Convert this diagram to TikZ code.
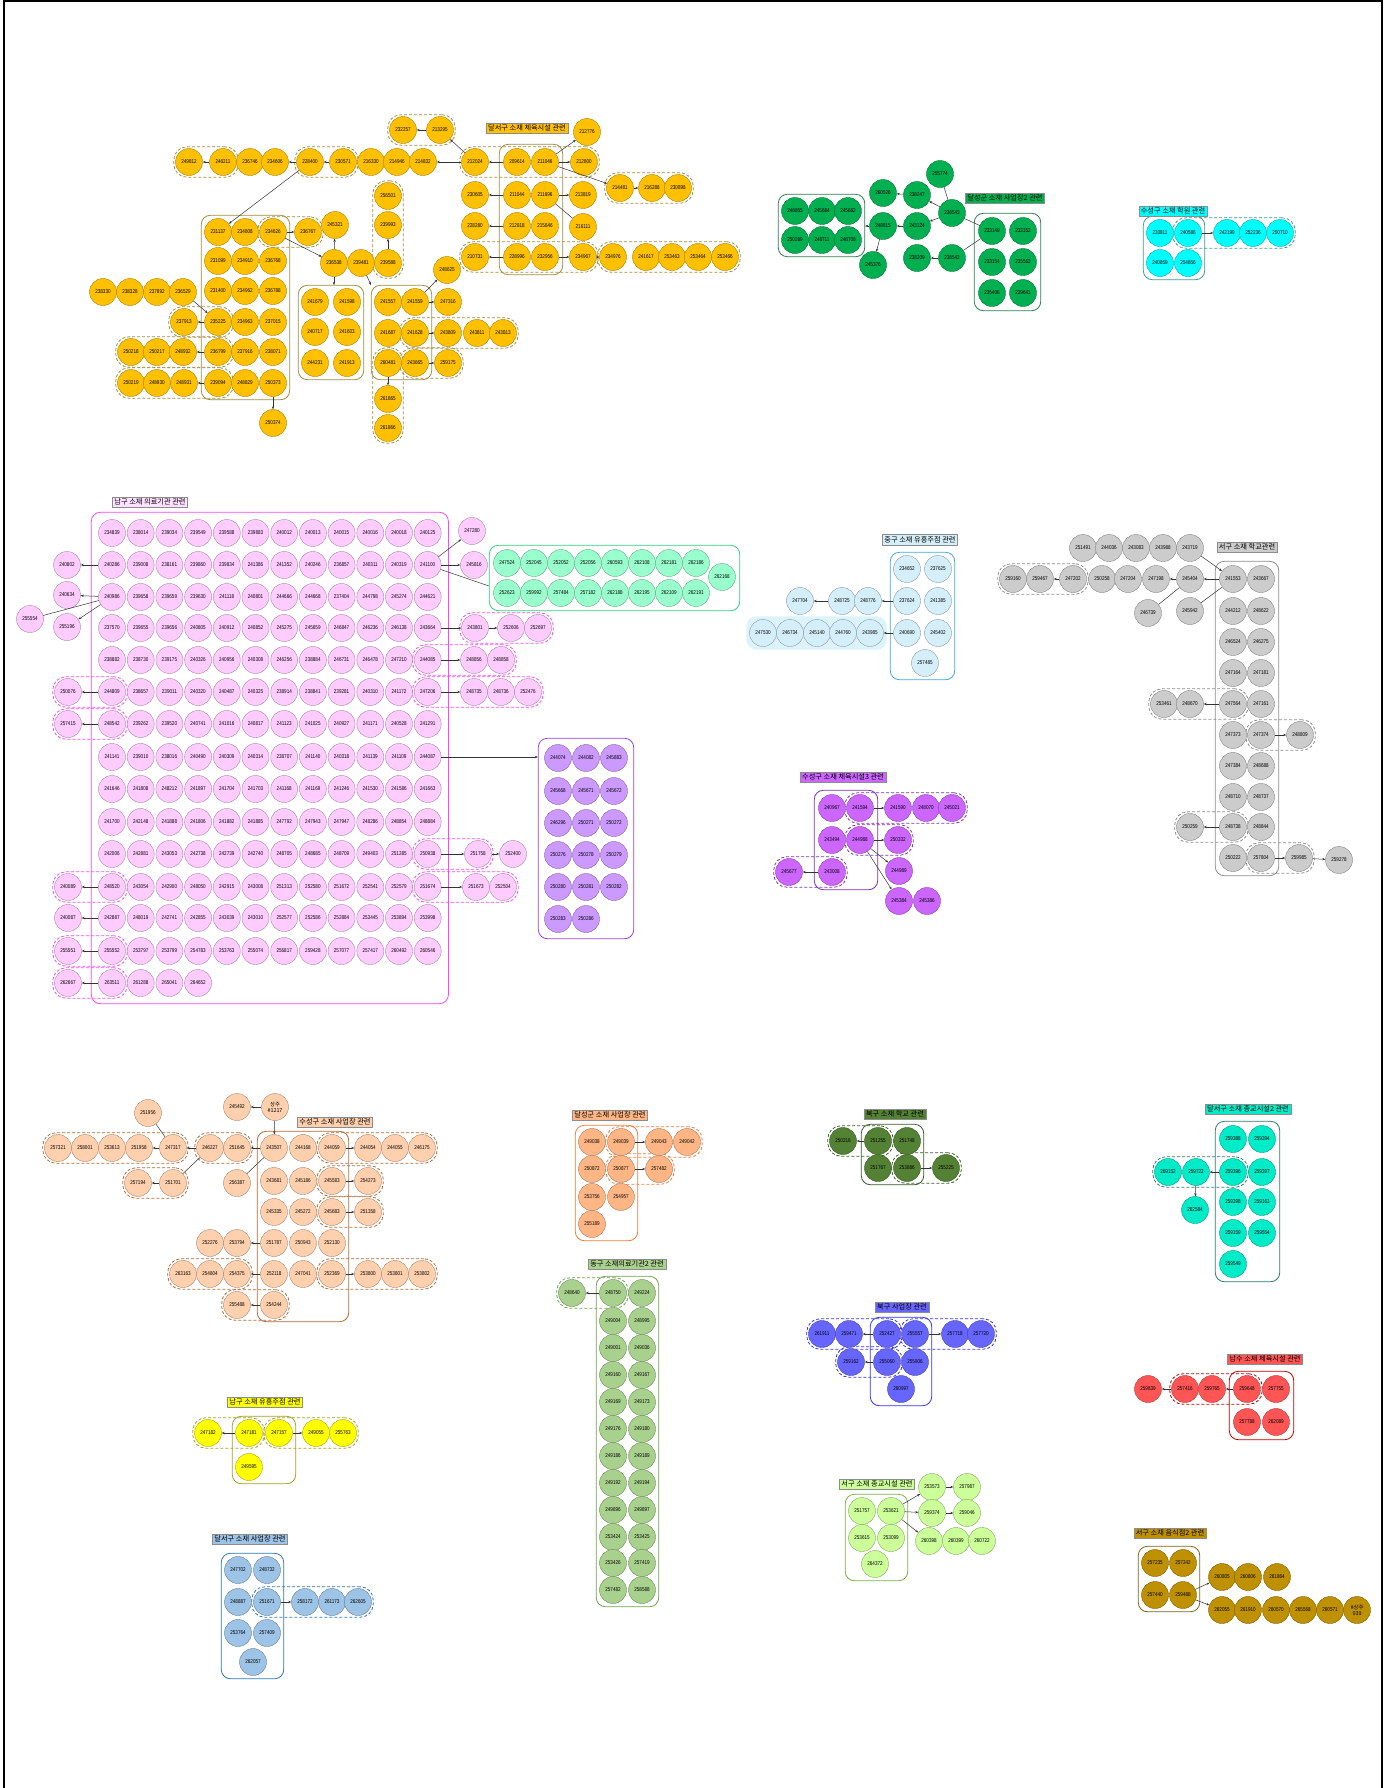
\documentclass[tikz,border=0pt]{standalone}
\usepackage{fontspec}
\setmainfont{Noto Sans CJK KR}
\newfontfamily\numfont{Liberation Sans}[FakeStretch=0.82]
\usetikzlibrary{arrows.meta, fit, backgrounds}

\definecolor{cYel}{HTML}{FFC000}\definecolor{cYelLn}{HTML}{A08C3C}
\definecolor{cGrn}{HTML}{00B050}\definecolor{cGrnLn}{HTML}{2E7D4F}
\definecolor{cCya}{HTML}{00FFFF}\definecolor{cCyaLn}{HTML}{3A9A9A}
\definecolor{cPnk}{HTML}{FFCCFF}\definecolor{cPnkLn}{HTML}{FF44FF}
\definecolor{cTea}{HTML}{99FFCC}\definecolor{cTeaLn}{HTML}{33CC80}
\definecolor{cVio}{HTML}{CC99FF}\definecolor{cVioLn}{HTML}{9940EE}
\definecolor{cLbl}{HTML}{D4EFFA}\definecolor{cLblLn}{HTML}{40A8E0}\definecolor{cBand}{HTML}{DDF3FB}
\definecolor{cGry}{HTML}{CCCCCC}\definecolor{cGryLn}{HTML}{8C8C8C}
\definecolor{cPur}{HTML}{CC66FF}\definecolor{cPurLn}{HTML}{7A30B8}
\definecolor{cPch}{HTML}{FFD0AE}\definecolor{cPchLn}{HTML}{B06A35}
\definecolor{cOrg}{HTML}{FFB684}\definecolor{cOrgLn}{HTML}{F07A3A}
\definecolor{cLgr}{HTML}{A9D18E}\definecolor{cLgrLn}{HTML}{70A050}
\definecolor{cDgr}{HTML}{548235}\definecolor{cDgrLn}{HTML}{3A5A28}
\definecolor{cBlu}{HTML}{6666FF}\definecolor{cBluLn}{HTML}{3333EE}
\definecolor{cLim}{HTML}{CCFF99}\definecolor{cLimLn}{HTML}{78B048}
\definecolor{cTur}{HTML}{00EBC8}\definecolor{cTurLn}{HTML}{2E7A6A}
\definecolor{cRed}{HTML}{FF5555}\definecolor{cRedLn}{HTML}{C00000}
\definecolor{cGld}{HTML}{BF9000}\definecolor{cGldLn}{HTML}{7F6020}
\definecolor{cYlw}{HTML}{FFFF00}\definecolor{cYlwLn}{HTML}{A8A020}
\definecolor{cBlw}{HTML}{9DC3E6}\definecolor{cBlwLn}{HTML}{2E75B6}

\tikzset{
  cnode/.style={circle, minimum size=27pt, inner sep=0pt, line width=0.4pt, font=\numfont\fontsize{5.6}{5.6}\selectfont},
  nd/.style={cnode, fill=#1, draw=#1!65!black},
  grp/.style={draw=#1, rounded corners=9pt, line width=0.8pt, inner sep=3pt},
  dgrp/.style={draw=#1, dashed, dash pattern=on 3pt off 2pt, rounded corners=13pt, line width=0.8pt, inner sep=1.5pt},
  ttl/.style={draw=black!45, fill=#1, inner sep=2pt, font=\fontsize{7.2}{8}\selectfont},
  arr/.style={-{Stealth[length=3pt,width=2.4pt]}, draw=black!80, line width=0.5pt},
  lnk/.style={draw=black!80, line width=0.5pt}
}

\begin{document}
\begin{tikzpicture}[x=1pt, y=-1pt]
\useasboundingbox (0,0) rectangle (1390,1788);
\draw[line width=1.2pt] (4,1788) -- (4,1) -- (1382,1) -- (1382,1788);

% 달서구 소재 체육시설
\node[ttl=cYel] (tY) at (527,128) {달서구 소재 체육시설 관련};
\node[nd=cYel] (Y249812) at (189,162) {249812};
\node[nd=cYel] (Y246211) at (223,162) {246211};
\node[nd=cYel] (Y236746) at (250,162) {236746};
\node[nd=cYel] (Y234606) at (275,162) {234606};
\node[nd=cYel] (Y228400) at (310,162) {228400};
\node[nd=cYel] (Y230571) at (343,162) {230571};
\node[nd=cYel] (Y216330) at (371,162) {216330};
\node[nd=cYel] (Y214946) at (397,162) {214946};
\node[nd=cYel] (Y214832) at (423,162) {214832};
\node[nd=cYel] (Y212024) at (475,162) {212024};
\node[nd=cYel] (Y209614) at (517,162) {209614};
\node[nd=cYel] (Y211046) at (545,162) {211046};
\node[nd=cYel] (Y212800) at (584,162) {212800};
\node[nd=cYel] (Y212776) at (587,132) {212776};
\node[nd=cYel] (Y232257) at (403,130) {232257};
\node[nd=cYel] (Y213295) at (440,130) {213295};
\node[nd=cYel] (Y230605) at (475,195) {230605};
\node[nd=cYel] (Y211044) at (517,195) {211044};
\node[nd=cYel] (Y211696) at (545,195) {211696};
\node[nd=cYel] (Y213819) at (583,195) {213819};
\node[nd=cYel] (Y214481) at (620,188) {214481};
\node[nd=cYel] (Y216288) at (652,188) {216288};
\node[nd=cYel] (Y230898) at (678,188) {230898};
\node[nd=cYel] (Y228280) at (475,226) {228280};
\node[nd=cYel] (Y212818) at (517,226) {212818};
\node[nd=cYel] (Y215846) at (545,226) {215846};
\node[nd=cYel] (Y216111) at (583,227) {216111};
\node[nd=cYel] (Y210731) at (475,257) {210731};
\node[nd=cYel] (Y228996) at (517,257) {228996};
\node[nd=cYel] (Y232956) at (545,257) {232956};
\node[nd=cYel] (Y234967) at (583,257) {234967};
\node[nd=cYel] (Y234976) at (613,257) {234976};
\node[nd=cYel] (Y241617) at (646,257) {241617};
\node[nd=cYel] (Y253463) at (672,257) {253463};
\node[nd=cYel] (Y253464) at (698,257) {253464};
\node[nd=cYel] (Y253466) at (725,257) {253466};
\node[nd=cYel] (Y231137) at (218,232) {231137};
\node[nd=cYel] (Y234808) at (245,232) {234808};
\node[nd=cYel] (Y234626) at (273,232) {234626};
\node[nd=cYel] (Y231099) at (218,261) {231099};
\node[nd=cYel] (Y234910) at (245,261) {234910};
\node[nd=cYel] (Y236768) at (273,261) {236768};
\node[nd=cYel] (Y231400) at (218,291) {231400};
\node[nd=cYel] (Y234962) at (245,291) {234962};
\node[nd=cYel] (Y236788) at (273,291) {236788};
\node[nd=cYel] (Y235225) at (218,322) {235225};
\node[nd=cYel] (Y234963) at (245,322) {234963};
\node[nd=cYel] (Y237015) at (273,322) {237015};
\node[nd=cYel] (Y236799) at (218,352) {236799};
\node[nd=cYel] (Y237916) at (245,352) {237916};
\node[nd=cYel] (Y238071) at (273,352) {238071};
\node[nd=cYel] (Y239094) at (218,383) {239094};
\node[nd=cYel] (Y248829) at (245,383) {248829};
\node[nd=cYel] (Y250373) at (273,383) {250373};
\node[nd=cYel] (Y236767) at (308,232) {236767};
\node[nd=cYel] (Y245321) at (335,225) {245321};
\node[nd=cYel] (Y236538) at (334,263) {236538};
\node[nd=cYel] (Y239481) at (361,263) {239481};
\node[nd=cYel] (Y239588) at (388,263) {239588};
\node[nd=cYel] (Y239993) at (388,225) {239993};
\node[nd=cYel] (Y256501) at (388,196) {256501};
\node[nd=cYel] (Y238330) at (103,292) {238330};
\node[nd=cYel] (Y238328) at (130,292) {238328};
\node[nd=cYel] (Y237892) at (157,292) {237892};
\node[nd=cYel] (Y236529) at (183,292) {236529};
\node[nd=cYel] (Y237913) at (184,322) {237913};
\node[nd=cYel] (Y250218) at (131,352) {250218};
\node[nd=cYel] (Y250217) at (157,352) {250217};
\node[nd=cYel] (Y248932) at (183,352) {248932};
\node[nd=cYel] (Y250219) at (131,383) {250219};
\node[nd=cYel] (Y248930) at (157,383) {248930};
\node[nd=cYel] (Y248931) at (184,383) {248931};
\node[nd=cYel] (Y250374) at (273,423) {250374};
\node[nd=cYel] (Y241679) at (315,302) {241679};
\node[nd=cYel] (Y241598) at (347,302) {241598};
\node[nd=cYel] (Y240717) at (315,332) {240717};
\node[nd=cYel] (Y241603) at (347,332) {241603};
\node[nd=cYel] (Y244231) at (315,363) {244231};
\node[nd=cYel] (Y241913) at (347,363) {241913};
\node[nd=cYel] (Y241557) at (388,302) {241557};
\node[nd=cYel] (Y241559) at (415,302) {241559};
\node[nd=cYel] (Y241687) at (388,333) {241687};
\node[nd=cYel] (Y241628) at (415,333) {241628};
\node[nd=cYel] (Y260481) at (388,363) {260481};
\node[nd=cYel] (Y243665) at (415,363) {243665};
\node[nd=cYel] (Y248625) at (447,270) {248625};
\node[nd=cYel] (Y247316) at (448,302) {247316};
\node[nd=cYel] (Y243809) at (448,333) {243809};
\node[nd=cYel] (Y243811) at (477,333) {243811};
\node[nd=cYel] (Y243813) at (503,333) {243813};
\node[nd=cYel] (Y259175) at (448,363) {259175};
\node[nd=cYel] (Y261865) at (388,399) {261865};
\node[nd=cYel] (Y261866) at (388,428) {261866};

% 달성군 소재 사업장2
\node[ttl=cGrn] (tG) at (1005,198) {달성군 소재 사업장2 관련};
\node[nd=cGrn] (G248855) at (795,211) {248855};
\node[nd=cGrn] (G245684) at (822,211) {245684};
\node[nd=cGrn] (G245682) at (848,211) {245682};
\node[nd=cGrn] (G250289) at (795,240) {250289};
\node[nd=cGrn] (G248711) at (822,240) {248711};
\node[nd=cGrn] (G248708) at (848,240) {248708};
\node[nd=cGrn] (G248815) at (883,226) {248815};
\node[nd=cGrn] (G245376) at (873,265) {245376};
\node[nd=cGrn] (G260526) at (883,193) {260526};
\node[nd=cGrn] (G238247) at (917,195) {238247};
\node[nd=cGrn] (G243124) at (917,226) {243124};
\node[nd=cGrn] (G238543) at (952,213) {238543};
\node[nd=cGrn] (G255774) at (940,174) {255774};
\node[nd=cGrn] (G238209) at (917,258) {238209};
\node[nd=cGrn] (G238542) at (952,258) {238542};
\node[nd=cGrn] (G233149) at (992,231) {233149};
\node[nd=cGrn] (G233152) at (1023,231) {233152};
\node[nd=cGrn] (G233154) at (992,262) {233154};
\node[nd=cGrn] (G235562) at (1023,262) {235562};
\node[nd=cGrn] (G235406) at (992,293) {235406};
\node[nd=cGrn] (G239641) at (1023,293) {239641};

% 수성구 소재 학원
\node[ttl=cCya] (tC) at (1173,211) {수성구 소재 학원 관련};
\node[nd=cCya] (C233811) at (1160,233) {233811};
\node[nd=cCya] (C240586) at (1188,233) {240586};
\node[nd=cCya] (C240859) at (1160,263) {240859};
\node[nd=cCya] (C254856) at (1188,263) {254856};
\node[nd=cCya] (C242199) at (1227,233) {242199};
\node[nd=cCya] (C252236) at (1253,233) {252236};
\node[nd=cCya] (C250710) at (1280,233) {250710};

% 남구 소재 의료기관
\node[ttl=cPnk!60] (tP) at (150,502) {남구 소재 의료기관 관련};
\foreach \lbl [count=\c from 0] in {234839,238014,239034,239549,239588,239883,240012,240013,240015,240016,240018,240125}
  \node[nd=cPnk] (P\lbl) at ({112+28.7*\c},533) {\lbl};
\foreach \lbl [count=\c from 0] in {240286,239008,238161,239860,239834,241386,241352,240246,236857,240311,240319,241100}
  \node[nd=cPnk] (P\lbl) at ({112+28.7*\c},565) {\lbl};
\foreach \lbl [count=\c from 0] in {240986,239658,239659,239630,241118,240801,244666,244668,237404,244798,245274,244621}
  \node[nd=cPnk] (P\lbl) at ({112+28.7*\c},597) {\lbl};
\foreach \lbl [count=\c from 0] in {237570,239655,239656,240805,240912,240852,245275,245659,246847,246236,246138,243664}
  \node[nd=cPnk] (P\lbl) at ({112+28.7*\c},628) {\lbl};
\foreach \lbl [count=\c from 0] in {238882,238730,239175,240326,240956,240308,246256,238884,246731,246478,247210,244085}
  \node[nd=cPnk] (P\lbl) at ({112+28.7*\c},660) {\lbl};
\foreach \lbl [count=\c from 0] in {244809,238657,239011,240320,240487,240325,238914,238841,239281,240310,241172,247206}
  \node[nd=cPnk] (P\lbl) at ({112+28.7*\c},692) {\lbl};
\foreach \lbl [count=\c from 0] in {248542,239262,239520,240741,241016,240817,241123,241025,240927,241171,240528,241291}
  \node[nd=cPnk] (P\lbl) at ({112+28.7*\c},724) {\lbl};
\foreach \lbl [count=\c from 0] in {241141,239010,238016,240490,240309,240314,238707,241140,240318,241139,241109,244087}
  \node[nd=cPnk] (P\lbl) at ({112+28.7*\c},757) {\lbl};
\foreach \lbl [count=\c from 0] in {241646,241808,248212,241897,241704,241703,241168,241169,241246,241530,241586,241663}
  \node[nd=cPnk] (P\lbl) at ({112+28.7*\c},789) {\lbl};
\foreach \lbl [count=\c from 0] in {241700,242148,241888,241806,241882,241885,247792,247943,247947,248286,248854,248884}
  \node[nd=cPnk] (P\lbl) at ({112+28.7*\c},822) {\lbl};
\foreach \lbl [count=\c from 0] in {242006,242881,243053,242738,242739,242740,248705,248685,248709,249403,251285,250938}
  \node[nd=cPnk] (P\lbl) at ({112+28.7*\c},854) {\lbl};
\foreach \lbl [count=\c from 0] in {248520,243054,242900,248050,242915,243008,251313,252580,251672,252541,252579,251674}
  \node[nd=cPnk] (P\lbl) at ({112+28.7*\c},887) {\lbl};
\foreach \lbl [count=\c from 0] in {242887,248019,242741,242855,243039,243010,252577,252586,252884,253445,253894,253998}
  \node[nd=cPnk] (P\lbl) at ({112+28.7*\c},918) {\lbl};
\foreach \lbl [count=\c from 0] in {255552,253797,253799,254783,253763,255074,256817,259428,257077,257417,260492,260546}
  \node[nd=cPnk] (P\lbl) at ({112+28.7*\c},951) {\lbl};
\foreach \lbl [count=\c from 0] in {263511,261288,265041,264652}
  \node[nd=cPnk] (P\lbl) at ({112+28.7*\c},983) {\lbl};
\node[nd=cPnk] (P240802) at (67,565) {240802};
\node[nd=cPnk] (P240634) at (67,595) {240634};
\node[nd=cPnk] (P255196) at (67,627) {255196};
\node[nd=cPnk] (P255554) at (30,619) {255554};
\node[nd=cPnk] (P250076) at (68,692) {250076};
\node[nd=cPnk] (P257415) at (68,724) {257415};
\node[nd=cPnk] (P240089) at (68,887) {240089};
\node[nd=cPnk] (P240087) at (68,918) {240087};
\node[nd=cPnk] (P255551) at (68,951) {255551};
\node[nd=cPnk] (P262667) at (68,983) {262667};
\node[nd=cPnk] (P247280) at (472,531) {247280};
\node[nd=cPnk] (P245816) at (474,565) {245816};
\node[nd=cPnk] (P243801) at (475,628) {243801};
\node[nd=cPnk] (P252606) at (511,628) {252606};
\node[nd=cPnk] (P252697) at (538,628) {252697};
\node[nd=cPnk] (P248856) at (474,660) {248856};
\node[nd=cPnk] (P248858) at (501,660) {248858};
\node[nd=cPnk] (P248735) at (474,692) {248735};
\node[nd=cPnk] (P248736) at (501,692) {248736};
\node[nd=cPnk] (P252476) at (528,692) {252476};
\node[nd=cPnk] (P251758) at (478,854) {251758};
\node[nd=cPnk] (P252400) at (513,854) {252400};
\node[nd=cPnk] (P251673) at (476,887) {251673};
\node[nd=cPnk] (P252504) at (503,887) {252504};

\node[nd=cTea] (T247524) at (507,563) {247524};
\node[nd=cTea] (T252045) at (534,563) {252045};
\node[nd=cTea] (T252052) at (561,563) {252052};
\node[nd=cTea] (T252056) at (588,563) {252056};
\node[nd=cTea] (T260593) at (615,563) {260593};
\node[nd=cTea] (T262108) at (642,563) {262108};
\node[nd=cTea] (T262181) at (669,563) {262181};
\node[nd=cTea] (T262186) at (696,563) {262186};
\node[nd=cTea] (T252623) at (507,593) {252623};
\node[nd=cTea] (T259992) at (534,593) {259992};
\node[nd=cTea] (T257484) at (561,593) {257484};
\node[nd=cTea] (T257182) at (588,593) {257182};
\node[nd=cTea] (T262188) at (615,593) {262188};
\node[nd=cTea] (T262195) at (642,593) {262195};
\node[nd=cTea] (T262109) at (669,593) {262109};
\node[nd=cTea] (T262191) at (696,593) {262191};
\node[nd=cTea] (T262168) at (722,577) {262168};

\node[nd=cVio] (V244074) at (558,758) {244074};
\node[nd=cVio] (V244082) at (586,758) {244082};
\node[nd=cVio] (V245883) at (614,758) {245883};
\node[nd=cVio] (V245668) at (558,791) {245668};
\node[nd=cVio] (V245671) at (586,791) {245671};
\node[nd=cVio] (V245672) at (614,791) {245672};
\node[nd=cVio] (V246296) at (558,823) {246296};
\node[nd=cVio] (V250271) at (586,823) {250271};
\node[nd=cVio] (V250272) at (614,823) {250272};
\node[nd=cVio] (V250276) at (558,855) {250276};
\node[nd=cVio] (V250278) at (586,855) {250278};
\node[nd=cVio] (V250279) at (614,855) {250279};
\node[nd=cVio] (V250280) at (558,887) {250280};
\node[nd=cVio] (V250281) at (586,887) {250281};
\node[nd=cVio] (V250282) at (614,887) {250282};
\node[nd=cVio] (V250283) at (558,919) {250283};
\node[nd=cVio] (V250286) at (586,919) {250286};

% 중구 소재 유흥주점
\node[ttl=cLbl] (tL) at (920,540) {중구 소재 유흥주점 관련};
\node[nd=cLbl] (L234652) at (907,569) {234652};
\node[nd=cLbl] (L237625) at (938,569) {237625};
\node[nd=cLbl] (L237624) at (907,601) {237624};
\node[nd=cLbl] (L241385) at (938,601) {241385};
\node[nd=cLbl] (L240690) at (907,633) {240690};
\node[nd=cLbl] (L245402) at (938,633) {245402};
\node[nd=cLbl] (L257485) at (925,663) {257485};
\node[nd=cLbl] (L247704) at (800,601) {247704};
\node[nd=cLbl] (L248725) at (842,601) {248725};
\node[nd=cLbl] (L248776) at (868,601) {248776};
\node[nd=cLbl] (L247530) at (763,633) {247530};
\node[nd=cLbl] (L246734) at (790,633) {246734};
\node[nd=cLbl] (L245140) at (817,633) {245140};
\node[nd=cLbl] (L244760) at (843,633) {244760};
\node[nd=cLbl] (L243985) at (870,633) {243985};

% 서구 소재 학교
\node[ttl=cGry] (tS) at (1247,547) {서구 소재 학교관련};
\node[nd=cGry] (S241553) at (1233,579) {241553};
\node[nd=cGry] (S243667) at (1261,579) {243667};
\node[nd=cGry] (S244212) at (1233,611) {244212};
\node[nd=cGry] (S248622) at (1261,611) {248622};
\node[nd=cGry] (S246524) at (1233,642) {246524};
\node[nd=cGry] (S246275) at (1261,642) {246275};
\node[nd=cGry] (S247164) at (1233,673) {247164};
\node[nd=cGry] (S247181) at (1261,673) {247181};
\node[nd=cGry] (S247564) at (1233,704) {247564};
\node[nd=cGry] (S247161) at (1261,704) {247161};
\node[nd=cGry] (S247373) at (1233,735) {247373};
\node[nd=cGry] (S247374) at (1261,735) {247374};
\node[nd=cGry] (S247384) at (1233,766) {247384};
\node[nd=cGry] (S248688) at (1261,766) {248688};
\node[nd=cGry] (S248710) at (1233,797) {248710};
\node[nd=cGry] (S248737) at (1261,797) {248737};
\node[nd=cGry] (S248738) at (1233,827) {248738};
\node[nd=cGry] (S248844) at (1261,827) {248844};
\node[nd=cGry] (S250222) at (1233,858) {250222};
\node[nd=cGry] (S257804) at (1261,858) {257804};
\node[nd=cGry] (S251491) at (1083,548) {251491};
\node[nd=cGry] (S244036) at (1109,548) {244036};
\node[nd=cGry] (S243083) at (1136,548) {243083};
\node[nd=cGry] (S243988) at (1163,548) {243988};
\node[nd=cGry] (S243719) at (1190,548) {243719};
\node[nd=cGry] (S259160) at (1013,579) {259160};
\node[nd=cGry] (S259467) at (1040,579) {259467};
\node[nd=cGry] (S247202) at (1073,579) {247202};
\node[nd=cGry] (S250258) at (1102,579) {250258};
\node[nd=cGry] (S247204) at (1128,579) {247204};
\node[nd=cGry] (S247198) at (1156,579) {247198};
\node[nd=cGry] (S245404) at (1190,579) {245404};
\node[nd=cGry] (S246739) at (1148,613) {246739};
\node[nd=cGry] (S245942) at (1190,611) {245942};
\node[nd=cGry] (S253461) at (1164,704) {253461};
\node[nd=cGry] (S248670) at (1190,704) {248670};
\node[nd=cGry] (S248809) at (1300,735) {248809};
\node[nd=cGry] (S250259) at (1190,827) {250259};
\node[nd=cGry] (S259985) at (1299,858) {259985};
\node[nd=cGry] (S259278) at (1339,860) {259278};

% 수성구 소재 체육시설3
\node[ttl=cPur] (tU) at (843,777) {수성구 소재 체육시설3 관련};
\node[nd=cPur] (U240967) at (832,808) {240967};
\node[nd=cPur] (U241594) at (860,808) {241594};
\node[nd=cPur] (U243494) at (832,840) {243494};
\node[nd=cPur] (U244988) at (860,840) {244988};
\node[nd=cPur] (U243008) at (832,872) {243008};
\node[nd=cPur] (U241590) at (898,808) {241590};
\node[nd=cPur] (U248070) at (926,808) {248070};
\node[nd=cPur] (U245021) at (952,808) {245021};
\node[nd=cPur] (U250332) at (898,840) {250332};
\node[nd=cPur] (U244989) at (899,871) {244989};
\node[nd=cPur] (U245384) at (899,901) {245384};
\node[nd=cPur] (U245386) at (927,901) {245386};
\node[nd=cPur] (U245677) at (789,872) {245677};

% 수성구 소재 사업장
\node[ttl=cPch] (tO) at (335,1122) {수성구 소재 사업장 관련};
\node[nd=cPch] (O251956) at (148,1113) {251956};
\node[nd=cPch] (O245492) at (237,1107) {245492};
\node[nd=cPch, align=center, font=\fontsize{5.4}{6}\selectfont] (Osj) at (275,1107) {상주\\\#1217};
\node[nd=cPch] (O257321) at (58,1148) {257321};
\node[nd=cPch] (O258001) at (85,1148) {258001};
\node[nd=cPch] (O253613) at (112,1148) {253613};
\node[nd=cPch] (O251958) at (139,1148) {251958};
\node[nd=cPch] (O247317) at (173,1148) {247317};
\node[nd=cPch] (O246227) at (210,1148) {246227};
\node[nd=cPch] (O251645) at (237,1148) {251645};
\node[nd=cPch] (O243507) at (274,1148) {243507};
\node[nd=cPch] (O244168) at (303,1148) {244168};
\node[nd=cPch] (O244059) at (332,1148) {244059};
\node[nd=cPch] (O244054) at (368,1148) {244054};
\node[nd=cPch] (O244055) at (395,1148) {244055};
\node[nd=cPch] (O246175) at (422,1148) {246175};
\node[nd=cPch] (O257194) at (138,1183) {257194};
\node[nd=cPch] (O251701) at (173,1183) {251701};
\node[nd=cPch] (O256387) at (237,1183) {256387};
\node[nd=cPch] (O243681) at (274,1181) {243681};
\node[nd=cPch] (O245186) at (303,1181) {245186};
\node[nd=cPch] (O245583) at (332,1181) {245583};
\node[nd=cPch] (O245335) at (274,1212) {245335};
\node[nd=cPch] (O245272) at (303,1212) {245272};
\node[nd=cPch] (O245683) at (332,1212) {245683};
\node[nd=cPch] (O251787) at (274,1243) {251787};
\node[nd=cPch] (O250943) at (303,1243) {250943};
\node[nd=cPch] (O252130) at (332,1243) {252130};
\node[nd=cPch] (O252118) at (274,1274) {252118};
\node[nd=cPch] (O247041) at (303,1274) {247041};
\node[nd=cPch] (O252369) at (332,1274) {252369};
\node[nd=cPch] (O254244) at (274,1305) {254244};
\node[nd=cPch] (O254273) at (368,1181) {254273};
\node[nd=cPch] (O251358) at (368,1212) {251358};
\node[nd=cPch] (O252276) at (210,1243) {252276};
\node[nd=cPch] (O253794) at (237,1243) {253794};
\node[nd=cPch] (O263163) at (183,1274) {263163};
\node[nd=cPch] (O254804) at (210,1274) {254804};
\node[nd=cPch] (O254375) at (237,1274) {254375};
\node[nd=cPch] (O253800) at (368,1274) {253800};
\node[nd=cPch] (O253801) at (395,1274) {253801};
\node[nd=cPch] (O253802) at (422,1274) {253802};
\node[nd=cPch] (O255488) at (237,1305) {255488};

% 달성군 소재 사업장
\node[ttl=cOrg] (tR) at (610,1115) {달성군 소재 사업장 관련};
\node[nd=cOrg] (R249038) at (592,1142) {249038};
\node[nd=cOrg] (R249039) at (621,1142) {249039};
\node[nd=cOrg] (R250872) at (592,1169) {250872};
\node[nd=cOrg] (R250877) at (621,1169) {250877};
\node[nd=cOrg] (R253756) at (592,1197) {253756};
\node[nd=cOrg] (R254957) at (621,1197) {254957};
\node[nd=cOrg] (R255189) at (592,1224) {255189};
\node[nd=cOrg] (R249043) at (659,1142) {249043};
\node[nd=cOrg] (R249042) at (687,1142) {249042};
\node[nd=cOrg] (R257482) at (659,1169) {257482};

% 동구 소재 의료기관2
\node[ttl=cLgr] (tE) at (627,1264) {동구 소재의료기관2 관련};
\node[nd=cLgr] (E248640) at (572,1293) {248640};
\node[nd=cLgr] (E248750) at (613,1293) {248750};
\node[nd=cLgr] (E249224) at (642,1293) {249224};
\node[nd=cLgr] (E249004) at (613,1321) {249004};
\node[nd=cLgr] (E248995) at (642,1321) {248995};
\node[nd=cLgr] (E249001) at (613,1348) {249001};
\node[nd=cLgr] (E249036) at (642,1348) {249036};
\node[nd=cLgr] (E249160) at (613,1375) {249160};
\node[nd=cLgr] (E249167) at (642,1375) {249167};
\node[nd=cLgr] (E249169) at (613,1402) {249169};
\node[nd=cLgr] (E249173) at (642,1402) {249173};
\node[nd=cLgr] (E249176) at (613,1429) {249176};
\node[nd=cLgr] (E249180) at (642,1429) {249180};
\node[nd=cLgr] (E249186) at (613,1456) {249186};
\node[nd=cLgr] (E249189) at (642,1456) {249189};
\node[nd=cLgr] (E249192) at (613,1483) {249192};
\node[nd=cLgr] (E249194) at (642,1483) {249194};
\node[nd=cLgr] (E249896) at (613,1510) {249896};
\node[nd=cLgr] (E249897) at (642,1510) {249897};
\node[nd=cLgr] (E253424) at (613,1537) {253424};
\node[nd=cLgr] (E253425) at (642,1537) {253425};
\node[nd=cLgr] (E253426) at (613,1563) {253426};
\node[nd=cLgr] (E257419) at (642,1563) {257419};
\node[nd=cLgr] (E257482) at (613,1590) {257482};
\node[nd=cLgr] (E258588) at (642,1590) {258588};

% 북구 소재 학교
\node[ttl=cDgr] (tK) at (895,1114) {북구 소재 학교 관련};
\node[nd=cDgr] (K250216) at (843,1141) {250216};
\node[nd=cDgr] (K251255) at (878,1141) {251255};
\node[nd=cDgr] (K251748) at (907,1141) {251748};
\node[nd=cDgr] (K251767) at (878,1168) {251767};
\node[nd=cDgr] (K253886) at (907,1168) {253886};
\node[nd=cDgr] (K255225) at (946,1168) {255225};

% 북구 사업장
\node[ttl=cBlu] (tB) at (902,1307) {북구 사업장 관련};
\node[nd=cBlu] (B261911) at (822,1334) {261911};
\node[nd=cBlu] (B259471) at (849,1334) {259471};
\node[nd=cBlu] (B252427) at (887,1334) {252427};
\node[nd=cBlu] (B255557) at (915,1334) {255557};
\node[nd=cBlu] (B257718) at (955,1334) {257718};
\node[nd=cBlu] (B257720) at (981,1334) {257720};
\node[nd=cBlu] (B259162) at (851,1362) {259162};
\node[nd=cBlu] (B255060) at (887,1362) {255060};
\node[nd=cBlu] (B255806) at (915,1362) {255806};
\node[nd=cBlu] (B260997) at (901,1389) {260997};

% 서구 소재 종교시설
\node[ttl=cLim] (tM) at (877,1484) {서구 소재 종교시설 관련};
\node[nd=cLim] (M251757) at (862,1511) {251757};
\node[nd=cLim] (M253621) at (891,1511) {253621};
\node[nd=cLim] (M253615) at (862,1538) {253615};
\node[nd=cLim] (M253099) at (891,1538) {253099};
\node[nd=cLim] (M264372) at (875,1564) {264372};
\node[nd=cLim] (M253573) at (932,1487) {253573};
\node[nd=cLim] (M257987) at (967,1487) {257987};
\node[nd=cLim] (M259374) at (932,1513) {259374};
\node[nd=cLim] (M259046) at (967,1513) {259046};
\node[nd=cLim] (M260398) at (929,1541) {260398};
\node[nd=cLim] (M260399) at (956,1541) {260399};
\node[nd=cLim] (M260722) at (982,1541) {260722};

% 달서구 소재 종교시설2
\node[ttl=cTur] (tQ) at (1248,1109) {달서구 소재 종교시설2 관련};
\node[nd=cTur] (Q259388) at (1233,1139) {259388};
\node[nd=cTur] (Q259394) at (1262,1139) {259394};
\node[nd=cTur] (Q259396) at (1233,1172) {259396};
\node[nd=cTur] (Q259397) at (1262,1172) {259397};
\node[nd=cTur] (Q259398) at (1233,1202) {259398};
\node[nd=cTur] (Q259161) at (1262,1202) {259161};
\node[nd=cTur] (Q259159) at (1233,1233) {259159};
\node[nd=cTur] (Q259554) at (1262,1233) {259554};
\node[nd=cTur] (Q259549) at (1233,1264) {259549};
\node[nd=cTur] (Q259722) at (1196,1172) {259722};
\node[nd=cTur] (Q269152) at (1168,1172) {269152};
\node[nd=cTur] (Q262584) at (1195,1210) {262584};

% 남수 소재 체육시설
\node[ttl=cRed] (tD) at (1265,1359) {남수 소재 체육시설 관련};
\node[nd=cRed] (D259648) at (1247,1389) {259648};
\node[nd=cRed] (D257755) at (1276,1389) {257755};
\node[nd=cRed] (D257788) at (1247,1422) {257788};
\node[nd=cRed] (D262089) at (1276,1422) {262089};
\node[nd=cRed] (D259765) at (1212,1389) {259765};
\node[nd=cRed] (D257416) at (1185,1389) {257416};
\node[nd=cRed] (D259839) at (1148,1389) {259839};

% 서구 소재 음식점2
\node[ttl=cGld] (tA) at (1170,1533) {서구 소재 음식점2 관련};
\node[nd=cGld] (A257235) at (1155,1563) {257235};
\node[nd=cGld] (A257242) at (1183,1563) {257242};
\node[nd=cGld] (A257440) at (1155,1595) {257440};
\node[nd=cGld] (A259488) at (1183,1595) {259488};
\node[nd=cGld] (A260805) at (1222,1577) {260805};
\node[nd=cGld] (A260806) at (1248,1577) {260806};
\node[nd=cGld] (A261864) at (1277,1577) {261864};
\node[nd=cGld] (A262055) at (1222,1610) {262055};
\node[nd=cGld] (A261910) at (1248,1610) {261910};
\node[nd=cGld] (A260570) at (1276,1610) {260570};
\node[nd=cGld] (A265568) at (1303,1610) {265568};
\node[nd=cGld] (A260571) at (1330,1610) {260571};
\node[nd=cGld, align=center, font=\fontsize{5.4}{6}\selectfont] (Asj) at (1357,1610) {\#상주\\939};

% 남구 소재 유흥주점
\node[ttl=cYlw] (tW) at (265,1402) {남구 소재 유흥주점 관련};
\node[nd=cYlw] (W247182) at (208,1433) {247182};
\node[nd=cYlw] (W247181) at (249,1433) {247181};
\node[nd=cYlw] (W247157) at (279,1433) {247157};
\node[nd=cYlw] (W249595) at (249,1467) {249595};
\node[nd=cYlw] (W249055) at (316,1433) {249055};
\node[nd=cYlw] (W255763) at (343,1433) {255763};

% 달서구 소재 사업장
\node[ttl=cBlw] (tN) at (250,1539) {달서구 소재 사업장 관련};
\node[nd=cBlw] (N247702) at (238,1570) {247702};
\node[nd=cBlw] (N248732) at (267,1570) {248732};
\node[nd=cBlw] (N248887) at (238,1602) {248887};
\node[nd=cBlw] (N251671) at (267,1602) {251671};
\node[nd=cBlw] (N253764) at (238,1633) {253764};
\node[nd=cBlw] (N257409) at (267,1633) {257409};
\node[nd=cBlw] (N262057) at (253,1662) {262057};
\node[nd=cBlw] (N258172) at (305,1602) {258172};
\node[nd=cBlw] (N261173) at (332,1602) {261173};
\node[nd=cBlw] (N262605) at (358,1602) {262605};

% groups
\begin{scope}[on background layer]
  \node[grp=cYelLn, fit=(Y209614)(Y232956), inner sep=4pt] (YboxA) {};
  \node[grp=cYelLn, fit=(Y231137)(Y250373)] (YboxL) {};
  \node[grp=cYelLn, fit=(Y241679)(Y241913)] (YboxB) {};
  \node[grp=cYelLn, fit=(Y241557)(Y243665)] (YboxC) {};
  \node[dgrp=cYelLn, fit=(Y249812)(Y246211)] {};
  \node[dgrp=cYelLn, fit=(Y228400)(Y230571)] {};
  \node[dgrp=cYelLn, fit=(Y232257)(Y213295)] {};
  \node[dgrp=cYelLn, fit=(Y212024)(Y212800)] {};
  \node[dgrp=cYelLn, fit=(Y214481)(Y230898)] {};
  \node[dgrp=cYelLn, fit=(Y210731)(Y234967)] {};
  \node[dgrp=cYelLn, fit=(Y234976)(Y253466)] {};
  \node[dgrp=cYelLn, fit=(Y234626)(Y236767)] {};
  \node[dgrp=cYelLn, fit=(Y256501)(Y239588)] {};
  \node[dgrp=cYelLn, fit=(Y237913)(Y235225)] {};
  \node[dgrp=cYelLn, fit=(Y250218)(Y236799)] {};
  \node[dgrp=cYelLn, fit=(Y250219)(Y239094)] {};
  \node[dgrp=cYelLn, fit=(Y241628)(Y243813)] {};
  \node[dgrp=cYelLn, fit=(Y243665)(Y259175)] {};
  \node[dgrp=cYelLn, fit=(Y260481)(Y261866)] {};
  \node[grp=cGrnLn, fit=(G248855)(G248708)] (GboxA) {};
  \node[grp=cGrnLn, fit=(G233149)(G239641), inner sep=4pt] (GboxB) {};
  \node[grp=cCyaLn, fit=(C233811)(C254856)] (CboxA) {};
  \node[dgrp=cCyaLn, fit=(C240586)(C250710)] {};
  \node[grp=cPnkLn, fit=(P234839)(P260546)(P263511), inner sep=7pt] (PboxA) {};
  \node[dgrp=cPnkLn, fit=(P250076)(P244809)] {};
  \node[dgrp=cPnkLn, fit=(P257415)(P248542)] {};
  \node[dgrp=cPnkLn, fit=(P240089)(P248520)] {};
  \node[dgrp=cPnkLn, fit=(P255551)(P255552)] {};
  \node[dgrp=cPnkLn, fit=(P262667)(P263511)] {};
  \node[dgrp=cPnkLn, fit=(P243801)(P252697)] {};
  \node[dgrp=cPnkLn, fit=(P244085)(P248858)] {};
  \node[dgrp=cPnkLn, fit=(P247206)(P252476)] {};
  \node[dgrp=cPnkLn, fit=(P250938)(P251758)] {};
  \node[dgrp=cPnkLn, fit=(P251674)(P252504)] {};
  \node[grp=cTeaLn, fit=(T247524)(T262191)(T262168), inner sep=4pt] (TboxA) {};
  \node[grp=cVioLn, fit=(V244074)(V245883)(V250283), inner sep=6pt] (VboxA) {};
  \node[fit=(L247530)(L243985), fill=cBand, rounded corners=10pt, inner sep=3pt] (LboxB) {};
  \node[grp=cLblLn, fit=(L234652)(L245402)(L257485)] (LboxA) {};
  \node[grp=cGryLn, fit=(S241553)(S257804), inner sep=4pt] (SboxA) {};
  \node[dgrp=cGryLn, fit=(S259160)(S247202)] {};
  \node[dgrp=cGryLn, fit=(S253461)(S247564)] {};
  \node[dgrp=cGryLn, fit=(S247374)(S248809)] {};
  \node[dgrp=cGryLn, fit=(S250259)(S248738)] {};
  \node[dgrp=cGryLn, fit=(S257804)(S259985)] {};
  \node[grp=cPurLn, fit=(U240967)(U244988)(U243008), inner sep=4pt] (UboxA) {};
  \node[dgrp=cPurLn, fit=(U241594)(U245021)] {};
  \node[dgrp=cPurLn, fit=(U244988)(U250332)] {};
  \node[dgrp=cPurLn, fit=(U245677)(U243008)] {};
  \node[grp=cPchLn, fit=(O243507)(O252369)(O254244)] (OboxA) {};
  \node[dgrp=cPchLn, fit=(O257321)(O247317)] {};
  \node[dgrp=cPchLn, fit=(O246227)(O251645)] {};
  \node[dgrp=cPchLn, fit=(O244059)(O246175)] {};
  \node[dgrp=cPchLn, fit=(O257194)(O251701)] {};
  \node[dgrp=cPchLn, fit=(O245583)(O254273)] {};
  \node[dgrp=cPchLn, fit=(O245683)(O251358)] {};
  \node[dgrp=cPchLn, fit=(O263163)(O254375)] {};
  \node[dgrp=cPchLn, fit=(O252369)(O253802)] {};
  \node[dgrp=cPchLn, fit=(O255488)(O254244)] {};
  \node[grp=cOrgLn, fit=(R249038)(R254957)(R255189)] (RboxA) {};
  \node[dgrp=cOrgLn, fit=(R249039)(R249042)] {};
  \node[dgrp=cOrgLn, fit=(R250877)(R257482)] {};
  \node[grp=cLgrLn, fit=(E248750)(E258588)] (EboxA) {};
  \node[dgrp=cLgrLn, fit=(E248640)(E248750)] {};
  \node[grp=cDgrLn, fit=(K251255)(K253886)] (KboxA) {};
  \node[dgrp=cDgrLn, fit=(K250216)(K251255)] {};
  \node[dgrp=cDgrLn, fit=(K253886)(K255225)] {};
  \node[grp=cBluLn, fit=(B252427)(B255806)(B260997)] (BboxA) {};
  \node[dgrp=cBluLn, fit=(B261911)(B252427)] {};
  \node[dgrp=cBluLn, fit=(B255557)(B257720)] {};
  \node[dgrp=cBluLn, fit=(B259162)(B255060)] {};
  \node[grp=cLimLn, fit=(M251757)(M253099)(M264372)] (MboxA) {};
  \node[grp=cTurLn, fit=(Q259388)(Q259554)(Q259549), inner sep=4pt] (QboxA) {};
  \node[dgrp=cTurLn, fit=(Q269152)(Q259396)] {};
  \node[grp=cRedLn, fit=(D259648)(D262089), inner sep=4pt] (DboxA) {};
  \node[dgrp=cRedLn, fit=(D257416)(D259648)] {};
  \node[grp=cGldLn, fit=(A257235)(A259488)] (AboxA) {};
  \node[grp=cYlwLn, fit=(W247181)(W247157)(W249595)] (WboxA) {};
  \node[dgrp=cYlwLn, fit=(W247182)(W247181)] {};
  \node[dgrp=cYlwLn, fit=(W247157)(W255763)] {};
  \node[grp=cBlwLn, fit=(N247702)(N257409)(N262057)] (NboxA) {};
  \node[dgrp=cBlwLn, fit=(N251671)(N262605)] {};
\end{scope}

% connectors
\draw[arr] (Y246211) -- (Y249812);
\draw[arr] (Y228400) -- (Y234606);
\draw[arr] (Y230571) -- (Y228400);
\draw[arr] (Y213295) -- (Y232257);
\draw[arr] (Y212024) -- (Y213295);
\draw[arr] (Y212024) -- (Y214832);
\draw[arr] (Y209614) -- (Y212024);
\draw[arr] (Y211046) -- (Y212776);
\draw[arr] (Y211046) -- (Y212800);
\draw[arr] (Y211046) -- (Y214481);
\draw[arr] (Y214481) -- (Y216288);
\draw[arr] (Y211044) -- (Y230605);
\draw[arr] (Y211696) -- (Y213819);
\draw[lnk] (Y211696) -- (Y216111);
\draw[arr] (Y212818) -- (Y228280);
\draw[arr] (Y228996) -- (Y210731);
\draw[arr] (Y232956) -- (Y234967);
\draw[arr] (Y234967) -- (Y234976);
\draw[arr] (Y228400) -- (Y231137);
\draw[arr] (Y234626) -- (Y236767);
\draw[arr] (Y234626) -- (Y236538);
\draw[arr] (Y236538) -- (Y245321);
\draw[arr] (Y236538) -- (Y236538 |- YboxB.north);
\draw[arr] (Y239481) -- (YboxC.north west);
\draw[arr] (Y239588) -- (Y239993);
\draw[arr] (Y236529) -- (Y235225);
\draw[arr] (Y235225) -- (Y237913);
\draw[arr] (Y236799) -- (Y248932);
\draw[arr] (Y239094) -- (Y248931);
\draw[arr] (Y250373) -- (Y250374);
\draw[arr] (Y241559) -- (Y248625);
\draw[arr] (Y241559) -- (Y247316);
\draw[arr] (Y241628) -- (Y243809);
\draw[arr] (Y243665) -- (Y259175);
\draw[arr] (Y260481) -- (Y261865);

\draw[arr] (G248815) -- (G248815 -| GboxA.east);
\draw[arr] (G248815) -- (G245376);
\draw[arr] (G238247) -- (G260526);
\draw[arr] (G243124) -- (G248815);
\draw[arr] (G238543) -- (G238247);
\draw[arr] (G238543) -- (G243124);
\draw[lnk] (G255774) -- (G238543);
\draw[lnk] (G238543) -- (G233149);
\draw[arr] (G238542) -- (G238209);
\draw[lnk] (G238542) -- (G233149);

\draw[arr] (C240586) -- (C242199);

\draw[arr] (P240286) -- (P240802);
\draw[arr] (P240986) -- (P240634);
\draw[arr] (P240986) -- (P255196);
\draw[lnk] (P255554) -- (P240986);
\draw[arr] (P244809) -- (P250076);
\draw[arr] (P248542) -- (P257415);
\draw[arr] (P248520) -- (P240089);
\draw[arr] (P242887) -- (P240087);
\draw[arr] (P255552) -- (P255551);
\draw[arr] (P263511) -- (P262667);
\draw[arr] (P241100) -- (P247280);
\draw[arr] (P241100) -- (P245816);
\draw[lnk] (P241100) -- ([yshift=-8pt]TboxA.west);
\draw[arr] (P243664) -- (P243801);
\draw[arr] (P243801) -- (P252606);
\draw[arr] (P244085) -- (P248856);
\draw[arr] (P247206) -- (P248735);
\draw[arr] (P244087) -- (P244087 -| VboxA.west);
\draw[arr] (P250938) -- (P251758);
\draw[arr] (P251758) -- (P252400);
\draw[arr] (P251674) -- (P251673);

\draw[arr] (L237624) -- (L248776);
\draw[arr] (L248725) -- (L247704);
\draw[arr] (L240690) -- (L243985);

\draw[arr] (S243719) -- (S241553);
\draw[arr] (S241553) -- (S245404);
\draw[arr] (S245404) -- (S247198);
\draw[arr] (S247202) -- (S259467);
\draw[lnk] (S245404) -- (S246739);
\draw[lnk] (S241553) -- (S245942);
\draw[arr] (S247564) -- (S248670);
\draw[arr] (S247374) -- (S248809);
\draw[arr] (S248738) -- (S250259);
\draw[arr] (S257804) -- (S259985);
\draw[arr] (S259985) -- (S259278);

\draw[arr] (U241594) -- (U241590);
\draw[arr] (U244988) -- (U250332);
\draw[arr] (U244988) -- (U244989);
\draw[arr] (U244988) -- (U245384);
\draw[arr] (U243008) -- (U245677);

\draw[lnk] (O251956) -- (O247317);
\draw[arr] (O247317) -- (O251958);
\draw[arr] (O246227) -- (O247317);
\draw[arr] (O243507) -- (O251645);
\draw[arr] (O244059) -- (O244054);
\draw[lnk] (O246227) -- (O251701);
\draw[arr] (O251701) -- (O257194);
\draw[lnk] (O243507) -- (O256387);
\draw[arr] (Osj) -- (O245492);
\draw[arr] (Osj) -- (O243507);
\draw[arr] (O245583) -- (O254273);
\draw[arr] (O245683) -- (O251358);
\draw[arr] (O251787) -- (O253794);
\draw[arr] (O252118) -- (O254375);
\draw[arr] (O252369) -- (O253800);
\draw[arr] (O254244) -- (O255488);

\draw[arr] (R249039) -- (R249043);
\draw[arr] (R250877) -- (R257482);
\draw[arr] (E248750) -- (E248640);
\draw[arr] (K251255) -- (K250216);
\draw[arr] (K253886) -- (K255225);
\draw[arr] (B252427) -- (B259471);
\draw[arr] (B255557) -- (B257718);
\draw[arr] (B255060) -- (B259162);
\draw[arr] (M253621) -- (M253573);
\draw[arr] (M253573) -- (M257987);
\draw[arr] (M253621) -- (M259374);
\draw[arr] (M259374) -- (M259046);
\draw[arr] (M253621) -- (M260398);
\draw[arr] (Q259396) -- (Q259722);
\draw[arr] (Q259722) -- (Q262584);
\draw[arr] (D259648) -- (D259765);
\draw[arr] (D257416) -- (D259839);
\draw[arr] (A259488) -- (A260805);
\draw[arr] (A259488) -- (A262055);
\draw[arr] (W247181) -- (W247182);
\draw[arr] (W247157) -- (W249055);
\draw[arr] (N251671) -- (N258172);
\end{tikzpicture}
\end{document}
